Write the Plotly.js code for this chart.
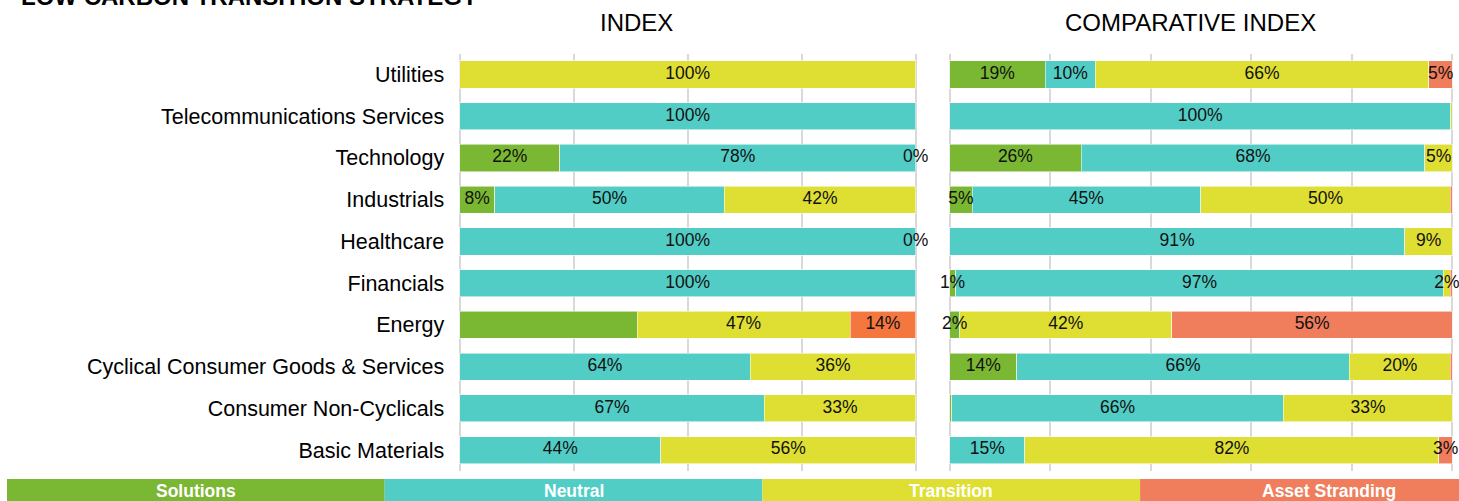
<!DOCTYPE html>
<html>
<head>
<meta charset="utf-8">
<script src="https://cdn.plot.ly/plotly-3.0.1.min.js"></script>
<style>
  html, body { margin: 0; padding: 0; background: #fff; }
  #chart { width: 1459px; height: 501px; }
</style>
</head>
<body>
<div id="chart"></div>
<script>
// ---------- data (bottom to top) ----------
const categories = ['Basic Materials', 'Consumer Non-Cyclicals', 'Cyclical Consumer Goods & Services', 'Energy', 'Financials', 'Healthcare', 'Industrials', 'Technology', 'Telecommunications Services', 'Utilities'];
const seriesNames = ['Solutions', 'Neutral', 'Transition', 'Asset Stranding'];

// INDEX
const idxSolutions  = [0, 0, 0, 38.9, 0, 0, 7.7, 22, 0, 0];
const idxNeutral    = [44.1, 66.8, 63.7, 0, 100, 100, 50.3, 78, 100, 0];
const idxTransition = [55.9, 33.2, 36.3, 46.7, 0, 0, 42, 0, 0, 100];
const idxStranding  = [0, 0, 0, 14.4, 0, 0, 0, 0, 0, 0];
const idxSolLbl = ['', '', '', '', '', '', '8%', '22%', '', ''];
const idxNeuLbl = ['44%', '67%', '64%', '', '100%', '100%', '50%', '78%', '100%', ''];
const idxTraLbl = ['56%', '33%', '36%', '47%', '', '0%', '42%', '0%', '', '100%'];
const idxStrLbl = ['', '', '', '14%', '', '', '', '', '', ''];

// COMPARATIVE INDEX
const cmpSolutions  = [0, 0.4, 13.4, 2.0, 1.2, 0, 4.5, 26.2, 0, 19];
const cmpNeutral    = [15, 66.0, 66.1, 0, 97.0, 90.5, 45.4, 68.3, 99.7, 10];
const cmpTransition = [82.3, 33.6, 20.1, 42.2, 1.4, 9.5, 49.7, 5.5, 0.3, 66.3];
const cmpStranding  = [2.7, 0, 0.4, 55.8, 0.4, 0, 0.4, 0, 0, 4.7];
const cmpSolLbl = ['', '', '14%', '2%', '1%', '', '5%', '26%', '', '19%'];
const cmpNeuLbl = ['15%', '66%', '66%', '', '97%', '91%', '45%', '68%', '100%', '10%'];
const cmpTraLbl = ['82%', '33%', '20%', '42%', '2%', '9%', '50%', '5%', '', '66%'];
const cmpStrLbl = ['3%', '', '', '56%', '', '', '', '', '', '5%'];

// ---------- styling ----------
const FONT = 'Liberation Sans, Arial, Helvetica, sans-serif';
const W = 1459, H = 501;
const px = v => v / W;
const py = v => 1 - v / H;
const colorsLeft  = ['#7AB733', '#52CDC5', '#DFDF33', '#F3773F'];
const colorsRight = ['#7AB733', '#52CDC5', '#DFDF33', '#F07D5C'];
const bandColors  = ['#7AB733', '#52CDC5', '#DFDF33', '#F07D5C'];

function panelTraces(seriesVals, seriesLbls, colors, xa, ya) {
  const traces = [];
  seriesVals.forEach((vals, s) => {
    traces.push({
      type: 'bar', orientation: 'h',
      x: vals.map(v => v === 0 ? null : v), y: categories,
      name: seriesNames[s], xaxis: xa, yaxis: ya,
      marker: { color: colors[s], line: { color: 'rgba(255,255,255,0.55)', width: 1 } },
      hoverinfo: 'skip', showlegend: false
    });
  });
  // labels at segment centres
  const lx = [], ly = [], lt = [];
  categories.forEach((c, i) => {
    let cum = 0;
    seriesVals.forEach((vals, s) => {
      const v = vals[i];
      const t = seriesLbls[s][i];
      if (t) { lx.push(cum + v / 2); ly.push(c); lt.push(t); }
      cum += v;
    });
  });
  traces.push({
    type: 'scatter', mode: 'text', x: lx, y: ly, text: lt,
    xaxis: xa, yaxis: ya, cliponaxis: false,
    textfont: { family: FONT, size: 17.5, color: '#111' },
    hoverinfo: 'skip', showlegend: false
  });
  return traces;
}

const data = [].concat(
  panelTraces([idxSolutions, idxNeutral, idxTransition, idxStranding],
              [idxSolLbl, idxNeuLbl, idxTraLbl, idxStrLbl], colorsLeft, 'x', 'y'),
  panelTraces([cmpSolutions, cmpNeutral, cmpTransition, cmpStranding],
              [cmpSolLbl, cmpNeuLbl, cmpTraLbl, cmpStrLbl], colorsRight, 'x2', 'y2')
);

const yDomain = [py(471), py(53.6)];
const commonX = {
  range: [-0.3, 100.3], showticklabels: false, showgrid: true,
  gridcolor: '#d9d9d9', gridwidth: 2, zeroline: false, showline: false,
  ticks: '', fixedrange: true, tick0: 0
};

const shapes = [];
const annotations = [];
const bandStart = 7, bandW = 377.7;
seriesNames.forEach((n, i) => {
  const x0 = bandStart + i * bandW;
  shapes.push({ type: 'rect', xref: 'paper', yref: 'paper',
    x0: px(x0), x1: px(x0 + bandW), y0: py(501 + 10), y1: py(479),
    fillcolor: bandColors[i], line: { width: 0 } });
  annotations.push({ xref: 'paper', yref: 'paper', x: px(x0 + bandW / 2), y: py(490.5),
    xanchor: 'center', yanchor: 'middle', showarrow: false, text: '<b>' + n + '</b>',
    font: { family: FONT, size: 17.5, color: '#ffffff' } });
});

annotations.push({ xref: 'paper', yref: 'paper', x: px(19), y: py(-3.5), xanchor: 'left', yanchor: 'middle',
  showarrow: false, text: '<b>LOW CARBON TRANSITION STRATEGY</b>',
  font: { family: FONT, size: 24, color: '#000' } });
annotations.push({ xref: 'paper', yref: 'paper', x: px(636.5), y: py(22), xanchor: 'center', yanchor: 'middle',
  showarrow: false, text: 'INDEX', font: { family: FONT, size: 24, color: '#000' } });
annotations.push({ xref: 'paper', yref: 'paper', x: px(1190.5), y: py(22.5), xanchor: 'center', yanchor: 'middle',
  showarrow: false, text: 'COMPARATIVE INDEX', font: { family: FONT, size: 24, color: '#000' } });

const layout = {
  width: W, height: H,
  margin: { l: 0, r: 0, t: 0, b: 0, pad: 0 },
  paper_bgcolor: '#fff', plot_bgcolor: '#fff',
  font: { family: FONT, color: '#000' },
  barmode: 'stack', bargap: 0.35,
  showlegend: false,
  xaxis: Object.assign({}, commonX, { domain: [px(458.3), px(917.1)], dtick: 25, anchor: 'y' }),
  xaxis2: Object.assign({}, commonX, { domain: [px(948.0), px(1454.0)], dtick: 20, anchor: 'y2' }),
  yaxis: { domain: yDomain, type: 'category', categoryorder: 'array', categoryarray: categories,
    range: [-0.5, 9.5], anchor: 'x', showgrid: false, zeroline: false, showline: false, ticks: '',
    automargin: false, ticklabelstandoff: 13, tickfont: { family: FONT, size: 21.5, color: '#000' }, fixedrange: true },
  yaxis2: { domain: yDomain, type: 'category', categoryorder: 'array', categoryarray: categories,
    range: [-0.5, 9.5], anchor: 'x2', showgrid: false, zeroline: false, showline: false, ticks: '',
    showticklabels: false, fixedrange: true },
  shapes: shapes,
  annotations: annotations
};

Plotly.newPlot('chart', data, layout, { displayModeBar: false, staticPlot: true });
</script>
</body>
</html>
